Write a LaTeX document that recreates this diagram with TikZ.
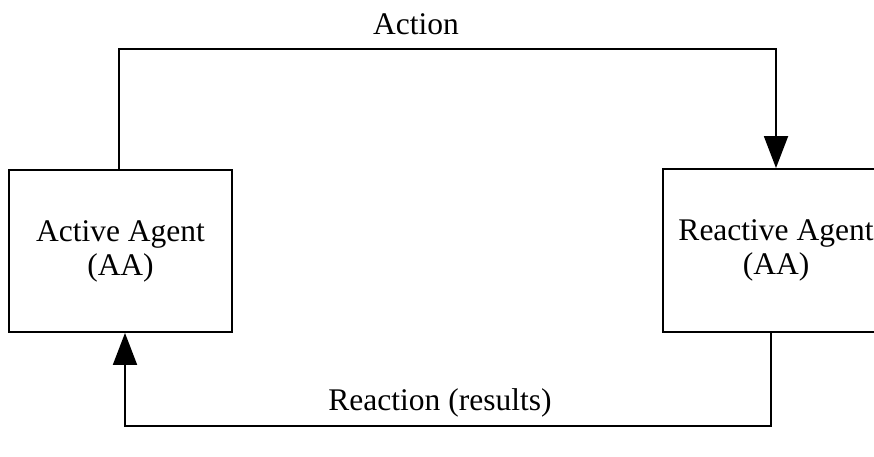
\documentclass[tikz,border=0pt]{standalone}
\usepackage{fontspec}
\setmainfont{Liberation Serif}
\usetikzlibrary{arrows.meta}
\begin{document}
\begin{tikzpicture}[x=1pt,y=-1pt,
  agentbox/.style={draw,line width=1.9pt,inner sep=0pt,align=center,
    font=\fontsize{31.5}{34}\selectfont},
  lbl/.style={font=\fontsize{31.5}{34}\selectfont,inner sep=0pt},
  conn/.style={line width=1.9pt},
  arr/.style={conn,-{Triangle[length=32pt,width=24pt]}}]
\useasboundingbox (0,0) rectangle (874,456);
\clip (0,0) rectangle (874,456);
\node[agentbox,minimum width=223pt,minimum height=162pt] (aa) at (120.5,251) {Active Agent\\(AA)};
\node[agentbox,minimum width=226pt,minimum height=163pt] (ra) at (776,250.5) {Reactive Agent\\(AA)};
\coordinate (tl) at (119,49);
\coordinate (br) at (771,426);
\coordinate (bl) at (125,426);
\draw[arr] (aa.north -| tl) -- (tl) -| (ra.north);
\draw[arr] (ra.south -| br) -- (br) -- (bl) -- (aa.south -| bl);
\node[lbl] (act) at (416,24) {Action};
\node[lbl] (rea) at (440,403) {Reaction (results)};
\end{tikzpicture}
\end{document}
